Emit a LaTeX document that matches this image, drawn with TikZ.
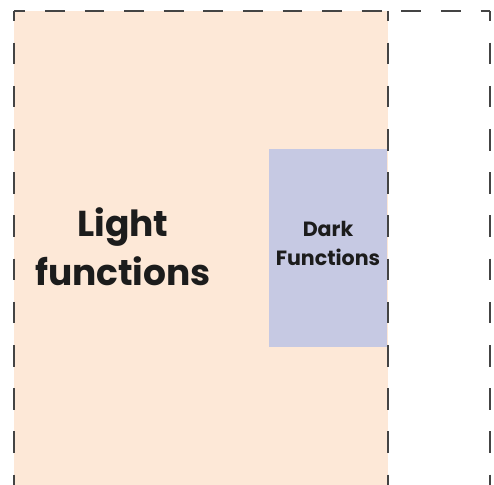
\documentclass[tikz,border=0pt]{standalone}
\usepackage{fontspec}
\setmainfont{Poppins}
\definecolor{peach}{HTML}{FDE8D7}
\definecolor{lav}{HTML}{C6C9E3}
\definecolor{ink}{HTML}{1C1C1C}
\definecolor{dashc}{HTML}{444444}
\begin{document}
\begin{tikzpicture}[x=1pt,y=-1pt,
  hdash/.style={draw=dashc,line width=2pt,dash pattern=on 19.8pt off 19.8pt,dash phase=8.7pt},
  vdash/.style={draw=dashc,line width=2pt,dash pattern=on 21.6pt off 21.6pt,dash phase=11.6pt},
  lbl/.style={text=ink,font=\bfseries,align=center,inner sep=0pt}]
\useasboundingbox (0,0) rectangle (494,484);
\fill[peach] (14,11) rectangle (388,490);
\node[fill=lav,minimum width=118pt,minimum height=198pt,inner sep=0pt,anchor=north west] (dark) at (269,149) {};
\node[lbl,font=\bfseries\fontsize{20.6}{29}\selectfont] (darkt) at (328,243) {Dark\\Functions};
\node[lbl,font=\bfseries\fontsize{36}{49}\selectfont] (light) at (123,247) {Light\\functions};
\coordinate (tl) at (14,11);
\coordinate (tr) at (490,11);
\coordinate (tm) at (388,11);
\draw[hdash] (tl) -- (tr);
\draw[vdash] (tl) -- (14,500);
\draw[vdash] (tm) -- (388,500);
\draw[vdash] (tr) -- (490,500);
\end{tikzpicture}
\end{document}
